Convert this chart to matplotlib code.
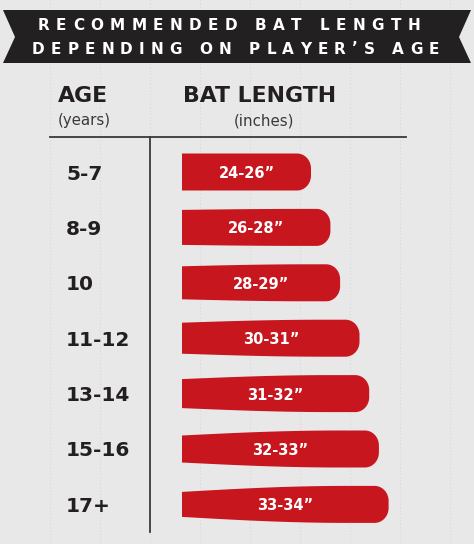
import numpy as np
import matplotlib.pyplot as plt
from matplotlib.patches import Polygon
from matplotlib.transforms import blended_transform_factory
from matplotlib.font_manager import FontProperties, findfont, get_font

# data
ages = ["5-7", "8-9", "10", "11-12", "13-14", "15-16", "17+"]
bat_low = [24, 26, 28, 30, 31, 32, 33]
bat_high = [26, 28, 29, 31, 32, 33, 34]
title_lines = ["RECOMMENDED BAT LENGTH", "DEPENDING ON PLAYER’S AGE"]

W, H = 474, 544
BG = "#e8e8e8"
DARK = "#231f20"
RED = "#c8161f"

fig = plt.figure(figsize=(W / 100, H / 100), dpi=100, facecolor=BG)

# layout axes in pixel coordinates
ax = fig.add_axes([0, 0, 1, 1])
ax.set_xlim(0, W)
ax.set_ylim(H, 0)
ax.axis('off')

# faint dotted paper grid
for gx in range(50, W, 50):
    ax.plot([gx, gx], [0, H], color="#d9d9d9", lw=0.8, ls=(0, (1, 2)), zorder=0)

# ribbon banner
banner = [(3, 10), (471, 10), (459, 37), (471, 63), (3, 63), (15, 37)]
ax.add_patch(Polygon(banner, closed=True, fc="#222020", ec='none', zorder=1))


def tracked(x0, x1, y, s, fp):
    # spread the letters of s between x0 and x1 (letter-spaced title)
    font = get_font(findfont(fp))
    font.set_size(fp.get_size_in_points(), 100)
    adv = [font.load_char(ord(c)).linearHoriAdvance / 65536 for c in s]
    track = (x1 - x0 - sum(adv)) / (len(s) - 1)
    x = x0
    for c, a in zip(s, adv):
        ax.text(x, y, c, fontproperties=fp, color='white', ha='left', va='baseline', zorder=3)
        x += a + track


title_fp = FontProperties(family="DejaVu Sans", weight="bold", size=11)
tracked(38, 420, 29.5, title_lines[0], title_fp)
tracked(32, 439, 53.5, title_lines[1], title_fp)

# column headers
ax.text(58, 102, "AGE", fontsize=15.8, fontweight='bold', color=DARK, ha='left', va='baseline')
ax.text(183, 102, "BAT LENGTH", fontsize=15.8, fontweight='bold', color=DARK, ha='left', va='baseline')
ax.text(58, 125, "(years)", fontsize=10.8, color="#3a3a3a", ha='left', va='baseline')
ax.text(264, 125, "(inches)", fontsize=10.8, color="#3a3a3a", ha='center', va='baseline')

ax.plot([50, 406], [137, 137], color="#3a3a3a", lw=1.3, zorder=2)
ax.plot([150, 150], [137, 532], color="#3a3a3a", lw=1.3, zorder=2)

# bat axes: x in inches, y in rows
PX_X = 9.7
PX_Y = 55.4
x_start = 12.7
ax_bat = fig.add_axes([0, 0, 1, 1])
ax_bat.set_xlim(x_start - 182 / PX_X, x_start + (W - 182) / PX_X)
ax_bat.set_ylim((H - 172) / PX_Y, -172 / PX_Y)
ax_bat.axis('off')
ax_bat.patch.set_visible(False)


def bat_shape(x0, x1, yc, i):
    h = 18.5 / PX_Y
    hl = h - i * 1.0 / PX_Y
    rx, ry = 14 / PX_X, 15 / PX_Y
    t = np.linspace(0, 1, 40)
    s = np.sin(t * np.pi / 2)
    xs_top = x0 + t * 0.8 * (x1 - x0)
    top = hl + (h - hl) * s
    a = np.linspace(np.pi / 2, 0, 20)
    xc = x1 - rx + rx * np.cos(a)
    yc_ = h - ry + ry * np.sin(a)
    xs = np.concatenate([xs_top, xc, xc[::-1], xs_top[::-1]])
    ys = np.concatenate([top, yc_, -yc_[::-1], -top[::-1]])
    return np.column_stack([xs, yc - ys])


for i, (lo, hi) in enumerate(zip(bat_low, bat_high)):
    ax_bat.add_patch(Polygon(bat_shape(x_start, hi, i, i), closed=True, fc=RED, ec='none'))
    ax_bat.text((x_start + hi) / 2, i, f"{lo}-{hi}”", family="DejaVu Sans", fontweight='bold',
                fontsize=10.5, color='white', ha='center', va='center_baseline')

trans = blended_transform_factory(ax.transData, ax_bat.transData)
for i, age in enumerate(ages):
    ax_bat.text(66, i, age, transform=trans, family="DejaVu Sans", fontweight='bold',
                fontsize=14.5, color=DARK, ha='left', va='center_baseline')

plt.savefig("out.png", dpi=100, facecolor=BG)
